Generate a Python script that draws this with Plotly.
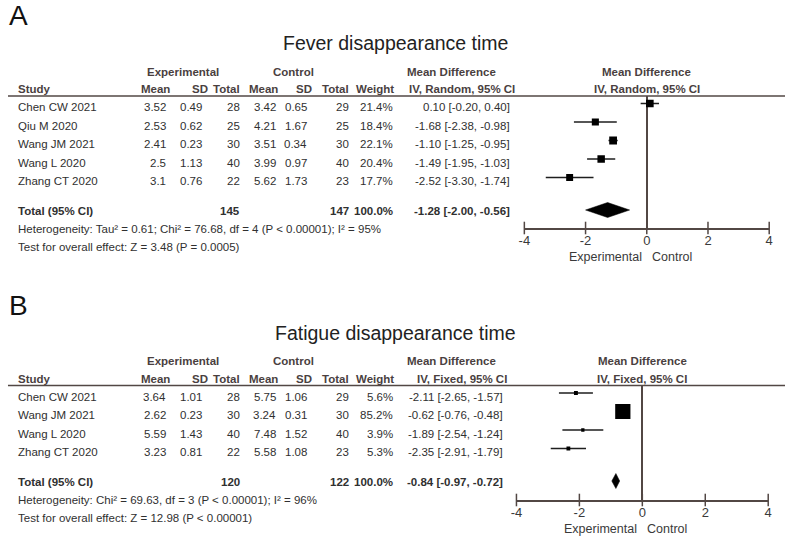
import math
import plotly.graph_objects as go

W, H = 789, 539

# ---------------- Panel A data: Fever disappearance time ----------------
a_title = "Fever disappearance time"
a_studies = ["Chen CW 2021", "Qiu M 2020", "Wang JM 2021", "Wang L 2020", "Zhang CT 2020"]
a_exp_mean = [3.52, 2.53, 2.41, 2.5, 3.1]
a_exp_sd = [0.49, 0.62, 0.23, 1.13, 0.76]
a_exp_n = [28, 25, 30, 40, 22]
a_ctl_mean = [3.42, 4.21, 3.51, 3.99, 5.62]
a_ctl_sd = [0.65, 1.67, 0.34, 0.97, 1.73]
a_ctl_n = [29, 25, 30, 40, 23]
a_weight = [21.4, 18.4, 22.1, 20.4, 17.7]
a_md = [0.10, -1.68, -1.10, -1.49, -2.52]
a_lo = [-0.20, -2.38, -1.25, -1.95, -3.30]
a_hi = [0.40, -0.98, -0.95, -1.03, -1.74]
a_total = {"n_exp": 145, "n_ctl": 147, "weight": 100.0, "md": -1.28, "lo": -2.00, "hi": -0.56}
a_method = "IV, Random, 95% CI"
a_het = "Heterogeneity: Tau² = 0.61; Chi² = 76.68, df = 4 (P < 0.00001); I² = 95%"
a_test = "Test for overall effect: Z = 3.48 (P = 0.0005)"

# ---------------- Panel B data: Fatigue disappearance time ----------------
b_title = "Fatigue disappearance time"
b_studies = ["Chen CW 2021", "Wang JM 2021", "Wang L 2020", "Zhang CT 2020"]
b_exp_mean = [3.64, 2.62, 5.59, 3.23]
b_exp_sd = [1.01, 0.23, 1.43, 0.81]
b_exp_n = [28, 30, 40, 22]
b_ctl_mean = [5.75, 3.24, 7.48, 5.58]
b_ctl_sd = [1.06, 0.31, 1.52, 1.08]
b_ctl_n = [29, 30, 40, 23]
b_weight = [5.6, 85.2, 3.9, 5.3]
b_md = [-2.11, -0.62, -1.89, -2.35]
b_lo = [-2.65, -0.76, -2.54, -2.91]
b_hi = [-1.57, -0.48, -1.24, -1.79]
b_total = {"n_exp": 120, "n_ctl": 122, "weight": 100.0, "md": -0.84, "lo": -0.97, "hi": -0.72}
b_method = "IV, Fixed, 95% CI"
b_het = "Heterogeneity: Chi² = 69.63, df = 3 (P < 0.00001); I² = 96%"
b_test = "Test for overall effect: Z = 12.98 (P < 0.00001)"

tick_vals = [-4, -2, 0, 2, 4]
tick_text = ["-4", "-2", "0", "2", "4"]
favours = ("Experimental", "Control")

# ---------------- styling ----------------
FONT = "Arial, Liberation Sans, sans-serif"
TXT = "#303030"
HDR = "#4a3f3f"
LINE = "#524744"
FS = 11.5

fig = go.Figure()
ann = []
shapes = []


def px(x):
    return x / W


def py(y):
    return 1 - y / H


def txt(x, y, s, anchor="left", bold=False, size=FS, color=TXT, xref="paper", xshift=0,
        yanchor="middle"):
    ann.append(dict(
        x=px(x) if xref == "paper" else x, y=py(y), xref=xref, yref="paper",
        text=f"<b>{s}</b>" if bold else s, showarrow=False,
        xanchor=anchor, yanchor=yanchor, borderpad=0, borderwidth=0, xshift=xshift,
        font=dict(family=FONT, size=size, color=color)))


def panel(label, title, studies, em, esd, en, cm, csd, cn, wt, md, lo, hi, tot,
          method, het, test, top, row0, axis_y, xdom, md_right, xa, ya):
    txt(3, top + 0.5, label, size=28, color="#111111", yanchor="top")
    txt(395, top + 43, title, anchor="center", size=19.5, color="#222222")
    h1 = top + 71.5
    h2 = top + 89
    rule = top + 96
    txt(179, h1, "Experimental", anchor="center", bold=True, color=HDR)
    txt(291, h1, "Control", anchor="center", bold=True, color=HDR)
    txt(451, h1, "Mean Difference", anchor="center", bold=True, color=HDR)
    txt(12, h2, "Study", bold=True, color=HDR)
    hdr_cols = ["Mean", "SD", "Total", "Mean", "SD", "Total", "Weight"]
    hdr_right = [166, 205, 237, 275, 310, 347, 393]
    for s, xr in zip(hdr_cols, hdr_right):
        txt(xr, h2, s, anchor="right", bold=True, color=HDR)
    txt(462, h2, method, anchor="center", bold=True, color=HDR)
    shapes.append(dict(type="line", xref="paper", yref="paper", x0=px(2), x1=px(789),
                       y0=py(rule), y1=py(rule), line=dict(color=LINE, width=1.5)))

    val_right = [162, 199, 237, 273, 305, 347, 392]
    step = 18.5
    rows_y = [row0 + i * step for i in range(len(studies))]
    for i, y in enumerate(rows_y):
        txt(12, y, studies[i])
        vals = [f"{em[i]:g}", f"{esd[i]:g}", str(en[i]), f"{cm[i]:g}", f"{csd[i]:g}",
                str(cn[i]), f"{wt[i]:.1f}%"]
        for v, xr in zip(vals, val_right):
            txt(xr, y, v, anchor="right")
        txt(md_right, y, f"{md[i]:.2f} [{lo[i]:.2f}, {hi[i]:.2f}]", anchor="right")
    ty = rows_y[-1] + 30
    txt(12, ty, "Total (95% CI)", bold=True)
    txt(val_right[2], ty, str(tot["n_exp"]), anchor="right", bold=True)
    txt(val_right[5], ty, str(tot["n_ctl"]), anchor="right", bold=True)
    txt(val_right[6], ty, f"{tot['weight']:.1f}%", anchor="right", bold=True)
    txt(md_right, ty, f"{tot['md']:.2f} [{tot['lo']:.2f}, {tot['hi']:.2f}]", anchor="right", bold=True)
    txt(12, ty + 18, het)
    txt(12, ty + 36, test)

    xname = "x" if xa == "xaxis" else "x2"
    yname = "y" if ya == "yaxis" else "y2"
    txt(0, h1, "Mean Difference", anchor="center", bold=True, color=HDR, xref=xname)
    txt(0, h2, method, anchor="center", bold=True, color=HDR, xref=xname)
    txt(0, axis_y + 29, favours[0], anchor="right", size=12.5, color="#3a3a3a",
        xref=xname, xshift=-5)
    txt(0, axis_y + 29, favours[1], anchor="left", size=12.5, color="#3a3a3a",
        xref=xname, xshift=5)

    # CI lines
    cx, cy = [], []
    for i, y in enumerate(rows_y):
        cx += [lo[i], hi[i], None]
        cy += [y - 3.5, y - 3.5, None]
    fig.add_trace(go.Scatter(x=cx, y=cy, mode="lines", xaxis=xname, yaxis=yname,
                             line=dict(color="#1e1e1e", width=1.5), hoverinfo="skip",
                             showlegend=False))
    # weight squares
    fig.add_trace(go.Scatter(x=md, y=[y - 3.5 for y in rows_y], mode="markers",
                             xaxis=xname, yaxis=yname,
                             marker=dict(symbol="square", color="#000000", opacity=1,
                                         size=[1.65 * math.sqrt(w) for w in wt],
                                         line=dict(width=0)),
                             showlegend=False))
    # pooled diamond
    dy = ty - 1
    fig.add_trace(go.Scatter(x=[tot["lo"], tot["md"], tot["hi"], tot["md"], tot["lo"]],
                             y=[dy, dy - 7.5, dy, dy + 7.5, dy], mode="lines", fill="toself",
                             fillcolor="#000000", line=dict(color="#000000", width=0.5),
                             xaxis=xname, yaxis=yname, showlegend=False))
    # cross-shaped ticks
    fig.add_trace(go.Scatter(x=tick_vals, y=[axis_y] * len(tick_vals), mode="markers",
                             xaxis=xname, yaxis=yname, cliponaxis=False,
                             marker=dict(symbol="line-ns", size=9, opacity=1,
                                         line=dict(color=LINE, width=1.5)),
                             showlegend=False, hoverinfo="skip"))

    fig.update_layout(**{
        xa: dict(domain=[px(xdom[0]), px(xdom[1])], range=[-4, 4], anchor=yname,
                 showline=True, linecolor=LINE, linewidth=1.5, mirror=False,
                 ticks="", tickvals=tick_vals, ticktext=tick_text,
                 tickfont=dict(family=FONT, size=13, color="#3a3a3a"),
                 showgrid=False, zeroline=True, zerolinecolor=LINE, zerolinewidth=1.5,
                 fixedrange=True),
        ya: dict(domain=[py(axis_y), py(rule)], range=[axis_y, rule], anchor=xname,
                 visible=False, showgrid=False, zeroline=False, fixedrange=True),
    })


panel("A", a_title, a_studies, a_exp_mean, a_exp_sd, a_exp_n, a_ctl_mean, a_ctl_sd, a_ctl_n,
      a_weight, a_md, a_lo, a_hi, a_total, a_method, a_het, a_test,
      top=0, row0=107, axis_y=228, xdom=(525, 773), md_right=510, xa="xaxis", ya="yaxis")
panel("B", b_title, b_studies, b_exp_mean, b_exp_sd, b_exp_n, b_ctl_mean, b_ctl_sd, b_ctl_n,
      b_weight, b_md, b_lo, b_hi, b_total, b_method, b_het, b_test,
      top=289.5, row0=396.5, axis_y=500, xdom=(517, 772), md_right=503, xa="xaxis2", ya="yaxis2")

fig.update_layout(width=W, height=H, margin=dict(l=0, r=0, t=0, b=0),
                  paper_bgcolor="white", plot_bgcolor="rgba(0,0,0,0)",
                  showlegend=False, annotations=ann, shapes=shapes,
                  font=dict(family=FONT, color=TXT))

fig.write_html("out.html", config={"displayModeBar": False},
               post_script="document.body.style.margin='0';")
